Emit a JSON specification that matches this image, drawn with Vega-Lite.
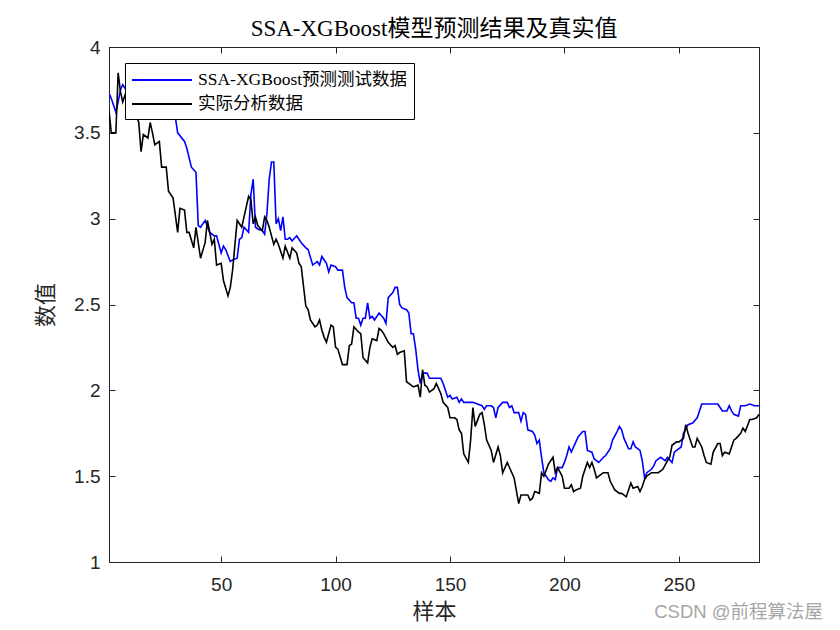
{
  "$schema": "https://vega.github.io/schema/vega-lite/v6.json",
  "width": 650,
  "height": 515,
  "autosize": "none",
  "padding": {"left": 109, "top": 47, "right": 81, "bottom": 68},
  "background": "white",
  "config": {
    "view": {"stroke": "#262626", "strokeWidth": 1},
    "axis": {
      "grid": false,
      "domainColor": "#262626",
      "tickColor": "#262626",
      "labelColor": "#262626",
      "labelFont": "Liberation Sans",
      "labelFontSize": 19,
      "titleFont": "Noto Sans CJK SC",
      "titleFontSize": 22,
      "titleFontWeight": "normal",
      "titleColor": "#262626",
      "tickSize": -6,
      "domainWidth": 1
    }
  },
  "title": {
    "text": "SSA-XGBoost模型预测结果及真实值",
    "font": "Liberation Serif, Noto Sans CJK SC",
    "fontSize": 23,
    "fontWeight": "normal",
    "color": "#000000",
    "offset": -3
  },
  "datasets": {
    "pred": [
      {"s":1,"v":3.73},{"s":2,"v":3.70},{"s":3,"v":3.66},{"s":4,"v":3.62},{"s":5,"v":3.68},{"s":6,"v":3.75},{"s":7,"v":3.78},{"s":8,"v":3.76},{"s":9,"v":3.78},{"s":10,"v":3.80},
      {"s":11,"v":3.77},{"s":12,"v":3.82},{"s":13,"v":3.84},{"s":14,"v":3.80},{"s":15,"v":3.78},{"s":16,"v":3.75},{"s":17,"v":3.78},{"s":18,"v":3.74},{"s":19,"v":3.70},{"s":20,"v":3.72},
      {"s":21,"v":3.68},{"s":22,"v":3.70},{"s":23,"v":3.66},{"s":24,"v":3.64},{"s":25,"v":3.66},{"s":26,"v":3.62},{"s":27,"v":3.60},{"s":28,"v":3.62},{"s":30,"v":3.59},{"s":31,"v":3.50},
      {"s":34,"v":3.45},{"s":35,"v":3.41},{"s":37,"v":3.30},{"s":39,"v":3.27},{"s":40,"v":2.96},{"s":41,"v":2.95},{"s":43,"v":2.99},{"s":45,"v":2.92},{"s":47,"v":2.90},{"s":48,"v":2.90},
      {"s":50,"v":2.80},{"s":51,"v":2.84},{"s":52,"v":2.82},{"s":54,"v":2.75},{"s":55,"v":2.76},{"s":57,"v":2.77},{"s":58,"v":2.88},{"s":59,"v":2.89},{"s":60,"v":2.95},{"s":62,"v":2.92},
      {"s":63,"v":3.14},{"s":64,"v":3.23},{"s":65,"v":2.95},{"s":66,"v":2.94},{"s":68,"v":2.93},{"s":69,"v":2.91},{"s":70,"v":3.03},{"s":71,"v":3.23},{"s":72,"v":3.33},{"s":73,"v":3.33},
      {"s":74,"v":2.97},{"s":75,"v":3.00},{"s":76,"v":2.93},{"s":77,"v":3.01},{"s":78,"v":2.88},{"s":79,"v":2.88},{"s":80,"v":2.89},{"s":81,"v":2.87},{"s":83,"v":2.90},{"s":85,"v":2.86},
      {"s":87,"v":2.83},{"s":88,"v":2.82},{"s":90,"v":2.73},{"s":92,"v":2.75},{"s":93,"v":2.73},{"s":94,"v":2.78},{"s":96,"v":2.74},{"s":97,"v":2.69},{"s":98,"v":2.73},{"s":100,"v":2.72},
      {"s":101,"v":2.70},{"s":103,"v":2.70},{"s":104,"v":2.60},{"s":105,"v":2.54},{"s":107,"v":2.51},{"s":108,"v":2.51},{"s":109,"v":2.42},{"s":110,"v":2.42},{"s":111,"v":2.38},{"s":112,"v":2.42},
      {"s":113,"v":2.42},{"s":114,"v":2.51},{"s":115,"v":2.42},{"s":116,"v":2.43},{"s":117,"v":2.41},{"s":119,"v":2.45},{"s":121,"v":2.42},{"s":122,"v":2.39},{"s":123,"v":2.54},{"s":125,"v":2.57},
      {"s":126,"v":2.60},{"s":127,"v":2.60},{"s":128,"v":2.50},{"s":129,"v":2.48},{"s":131,"v":2.47},{"s":132,"v":2.45},{"s":133,"v":2.33},{"s":134,"v":2.33},{"s":135,"v":2.24},{"s":136,"v":2.12},
      {"s":137,"v":2.04},{"s":138,"v":2.10},{"s":140,"v":2.10},{"s":141,"v":2.07},{"s":143,"v":2.07},{"s":146,"v":2.07},{"s":147,"v":2.04},{"s":149,"v":1.96},{"s":150,"v":1.97},{"s":151,"v":1.95},
      {"s":153,"v":1.96},{"s":154,"v":1.93},{"s":155,"v":1.95},{"s":156,"v":1.93},{"s":158,"v":1.93},{"s":160,"v":1.93},{"s":162,"v":1.92},{"s":164,"v":1.91},{"s":165,"v":1.89},{"s":166,"v":1.91},
      {"s":168,"v":1.91},{"s":169,"v":1.90},{"s":170,"v":1.84},{"s":171,"v":1.90},{"s":173,"v":1.93},{"s":175,"v":1.93},{"s":176,"v":1.90},{"s":177,"v":1.91},{"s":178,"v":1.87},{"s":180,"v":1.87},
      {"s":181,"v":1.82},{"s":182,"v":1.87},{"s":183,"v":1.86},{"s":184,"v":1.77},{"s":186,"v":1.76},{"s":187,"v":1.74},{"s":188,"v":1.69},{"s":189,"v":1.71},{"s":190,"v":1.61},{"s":191,"v":1.52},
      {"s":193,"v":1.48},{"s":194,"v":1.47},{"s":195,"v":1.49},{"s":196,"v":1.48},{"s":197,"v":1.55},{"s":199,"v":1.55},{"s":200,"v":1.58},{"s":201,"v":1.62},{"s":202,"v":1.67},{"s":203,"v":1.64},
      {"s":205,"v":1.70},{"s":206,"v":1.73},{"s":208,"v":1.76},{"s":209,"v":1.76},{"s":210,"v":1.65},{"s":212,"v":1.64},{"s":213,"v":1.60},{"s":215,"v":1.58},{"s":217,"v":1.61},{"s":218,"v":1.62},
      {"s":220,"v":1.66},{"s":221,"v":1.71},{"s":223,"v":1.76},{"s":224,"v":1.79},{"s":225,"v":1.77},{"s":226,"v":1.72},{"s":228,"v":1.66},{"s":229,"v":1.66},{"s":230,"v":1.70},{"s":231,"v":1.67},
      {"s":233,"v":1.65},{"s":234,"v":1.59},{"s":235,"v":1.49},{"s":236,"v":1.52},{"s":238,"v":1.54},{"s":239,"v":1.56},{"s":240,"v":1.59},{"s":242,"v":1.61},{"s":244,"v":1.59},{"s":245,"v":1.61},
      {"s":247,"v":1.58},{"s":248,"v":1.64},{"s":249,"v":1.65},{"s":251,"v":1.67},{"s":252,"v":1.75},{"s":254,"v":1.80},{"s":256,"v":1.81},{"s":258,"v":1.84},{"s":259,"v":1.88},{"s":260,"v":1.92},
      {"s":262,"v":1.92},{"s":267,"v":1.92},{"s":268,"v":1.90},{"s":269,"v":1.88},{"s":271,"v":1.88},{"s":272,"v":1.91},{"s":273,"v":1.88},{"s":274,"v":1.86},{"s":276,"v":1.85},{"s":277,"v":1.91},
      {"s":279,"v":1.91},{"s":281,"v":1.92},{"s":283,"v":1.91},{"s":285,"v":1.91}
    ],
    "actual": [
      {"s":1,"v":3.63},{"s":2,"v":3.50},{"s":4,"v":3.50},{"s":5,"v":3.85},{"s":6,"v":3.74},{"s":7,"v":3.68},{"s":8,"v":3.72},{"s":9,"v":3.66},{"s":10,"v":3.70},{"s":11,"v":3.62},
      {"s":12,"v":3.66},{"s":13,"v":3.60},{"s":14,"v":3.56},{"s":15,"v":3.39},{"s":16,"v":3.49},{"s":18,"v":3.47},{"s":19,"v":3.56},{"s":20,"v":3.50},{"s":21,"v":3.43},{"s":23,"v":3.45},
      {"s":24,"v":3.30},{"s":26,"v":3.30},{"s":27,"v":3.16},{"s":29,"v":3.12},{"s":31,"v":2.92},{"s":32,"v":3.06},{"s":34,"v":3.05},{"s":35,"v":2.92},{"s":36,"v":2.92},{"s":38,"v":2.83},
      {"s":39,"v":2.95},{"s":41,"v":2.77},{"s":43,"v":2.86},{"s":44,"v":2.99},{"s":46,"v":2.85},{"s":47,"v":2.88},{"s":48,"v":2.73},{"s":50,"v":2.74},{"s":51,"v":2.64},{"s":53,"v":2.55},
      {"s":54,"v":2.60},{"s":55,"v":2.70},{"s":57,"v":2.99},{"s":58,"v":2.97},{"s":59,"v":2.95},{"s":61,"v":3.07},{"s":62,"v":3.13},{"s":63,"v":3.11},{"s":64,"v":2.97},{"s":65,"v":3.01},
      {"s":66,"v":2.96},{"s":68,"v":2.93},{"s":69,"v":3.01},{"s":70,"v":2.99},{"s":71,"v":2.95},{"s":73,"v":2.85},{"s":74,"v":2.88},{"s":75,"v":2.85},{"s":77,"v":2.77},{"s":78,"v":2.84},
      {"s":80,"v":2.77},{"s":81,"v":2.83},{"s":83,"v":2.80},{"s":84,"v":2.74},{"s":85,"v":2.72},{"s":87,"v":2.49},{"s":88,"v":2.47},{"s":89,"v":2.41},{"s":91,"v":2.37},{"s":92,"v":2.38},
      {"s":93,"v":2.41},{"s":94,"v":2.35},{"s":95,"v":2.31},{"s":96,"v":2.28},{"s":98,"v":2.38},{"s":99,"v":2.37},{"s":100,"v":2.25},{"s":101,"v":2.24},{"s":103,"v":2.15},{"s":104,"v":2.15},
      {"s":105,"v":2.15},{"s":106,"v":2.26},{"s":107,"v":2.27},{"s":108,"v":2.37},{"s":110,"v":2.34},{"s":111,"v":2.33},{"s":112,"v":2.19},{"s":114,"v":2.16},{"s":115,"v":2.25},{"s":116,"v":2.30},
      {"s":118,"v":2.29},{"s":119,"v":2.36},{"s":120,"v":2.35},{"s":121,"v":2.33},{"s":123,"v":2.28},{"s":125,"v":2.25},{"s":126,"v":2.26},{"s":127,"v":2.21},{"s":128,"v":2.22},{"s":130,"v":2.23},
      {"s":131,"v":2.05},{"s":133,"v":2.03},{"s":134,"v":2.02},{"s":136,"v":2.03},{"s":137,"v":1.96},{"s":138,"v":2.12},{"s":139,"v":2.03},{"s":140,"v":2.02},{"s":141,"v":1.99},{"s":143,"v":2.01},
      {"s":144,"v":2.04},{"s":146,"v":1.98},{"s":147,"v":1.93},{"s":149,"v":1.90},{"s":150,"v":1.84},{"s":152,"v":1.84},{"s":153,"v":1.83},{"s":154,"v":1.77},{"s":155,"v":1.75},{"s":156,"v":1.63},
      {"s":158,"v":1.58},{"s":159,"v":1.71},{"s":160,"v":1.90},{"s":161,"v":1.79},{"s":163,"v":1.86},{"s":164,"v":1.87},{"s":165,"v":1.80},{"s":166,"v":1.71},{"s":168,"v":1.65},{"s":169,"v":1.58},
      {"s":171,"v":1.67},{"s":172,"v":1.62},{"s":173,"v":1.52},{"s":175,"v":1.58},{"s":177,"v":1.52},{"s":178,"v":1.49},{"s":180,"v":1.34},{"s":181,"v":1.39},{"s":182,"v":1.39},{"s":184,"v":1.39},
      {"s":185,"v":1.36},{"s":186,"v":1.37},{"s":187,"v":1.41},{"s":189,"v":1.40},{"s":190,"v":1.52},{"s":191,"v":1.50},{"s":193,"v":1.57},{"s":195,"v":1.61},{"s":196,"v":1.52},{"s":197,"v":1.55},
      {"s":199,"v":1.50},{"s":200,"v":1.43},{"s":202,"v":1.43},{"s":203,"v":1.45},{"s":204,"v":1.41},{"s":205,"v":1.42},{"s":207,"v":1.43},{"s":208,"v":1.50},{"s":209,"v":1.54},{"s":210,"v":1.58},
      {"s":211,"v":1.55},{"s":212,"v":1.58},{"s":213,"v":1.54},{"s":214,"v":1.49},{"s":216,"v":1.51},{"s":217,"v":1.52},{"s":219,"v":1.52},{"s":220,"v":1.47},{"s":222,"v":1.42},{"s":224,"v":1.40},
      {"s":225,"v":1.40},{"s":227,"v":1.38},{"s":228,"v":1.42},{"s":229,"v":1.46},{"s":230,"v":1.43},{"s":232,"v":1.44},{"s":233,"v":1.41},{"s":234,"v":1.44},{"s":235,"v":1.48},{"s":236,"v":1.50},
      {"s":238,"v":1.52},{"s":240,"v":1.52},{"s":241,"v":1.52},{"s":243,"v":1.54},{"s":245,"v":1.59},{"s":246,"v":1.61},{"s":247,"v":1.68},{"s":249,"v":1.70},{"s":250,"v":1.70},{"s":252,"v":1.72},
      {"s":253,"v":1.80},{"s":254,"v":1.75},{"s":256,"v":1.67},{"s":257,"v":1.67},{"s":258,"v":1.72},{"s":260,"v":1.67},{"s":261,"v":1.62},{"s":262,"v":1.58},{"s":264,"v":1.57},{"s":265,"v":1.64},
      {"s":267,"v":1.69},{"s":268,"v":1.69},{"s":269,"v":1.62},{"s":270,"v":1.64},{"s":272,"v":1.63},{"s":273,"v":1.67},{"s":274,"v":1.71},{"s":275,"v":1.72},{"s":277,"v":1.75},{"s":278,"v":1.78},
      {"s":279,"v":1.76},{"s":281,"v":1.83},{"s":282,"v":1.83},{"s":284,"v":1.84},{"s":285,"v":1.86}
    ],
    "mark": [
      {"s":313,"v":0.71,"t":"CSDN @前程算法屋"}
    ]
  },
  "layer": [
    {
      "data": {"name": "pred"},
      "mark": {"type": "line", "strokeWidth": 1.6, "clip": true},
      "encoding": {
        "x": {"field": "s", "type": "quantitative",
              "scale": {"domain": [1, 285], "nice": false, "zero": false},
              "axis": {"values": [50, 100, 150, 200, 250], "format": "d", "title": "样本", "labelPadding": 19, "titlePadding": 7}},
        "y": {"field": "v", "type": "quantitative",
              "scale": {"domain": [1, 4], "nice": false, "zero": false},
              "axis": {"values": [1, 1.5, 2, 2.5, 3, 3.5, 4], "format": "~g", "title": "数值", "labelPadding": 15, "titlePadding": 16}},
        "color": {"datum": "SSA-XGBoost预测测试数据", "type": "nominal",
          "scale": {"domain": ["SSA-XGBoost预测测试数据", "实际分析数据"], "range": ["#0000ff", "#000000"]},
          "legend": {
            "orient": "none", "legendX": 16, "legendY": 16, "title": null,
            "symbolType": "M-1,0H5", "symbolSize": 400, "symbolStrokeWidth": 2,
            "labelFont": "Liberation Serif, Noto Sans CJK SC", "labelFontSize": 17.5, "labelColor": "#000000",
            "labelLimit": 400, "labelOffset": 45,
            "fillColor": "white", "strokeColor": "#000000", "padding": 6, "rowPadding": 4
          }}
      }
    },
    {
      "data": {"name": "actual"},
      "mark": {"type": "line", "strokeWidth": 1.6, "clip": true},
      "encoding": {
        "x": {"field": "s", "type": "quantitative",
              "axis": {"orient": "top", "values": [50, 100, 150, 200, 250], "labels": false, "title": null}},
        "y": {"field": "v", "type": "quantitative",
              "axis": {"orient": "right", "values": [1, 1.5, 2, 2.5, 3, 3.5, 4], "labels": false, "title": null}},
        "color": {"datum": "实际分析数据", "type": "nominal"}
      }
    },
    {
      "data": {"name": "mark"},
      "mark": {"type": "text", "align": "right", "baseline": "middle", "font": "Liberation Sans, Noto Sans CJK SC", "fontSize": 18.5, "color": "#a6a6a6"},
      "encoding": {
        "x": {"field": "s", "type": "quantitative", "axis": null},
        "y": {"field": "v", "type": "quantitative", "axis": null},
        "text": {"field": "t"}
      }
    }
  ],
  "resolve": {"axis": {"x": "independent", "y": "independent"}}
}
